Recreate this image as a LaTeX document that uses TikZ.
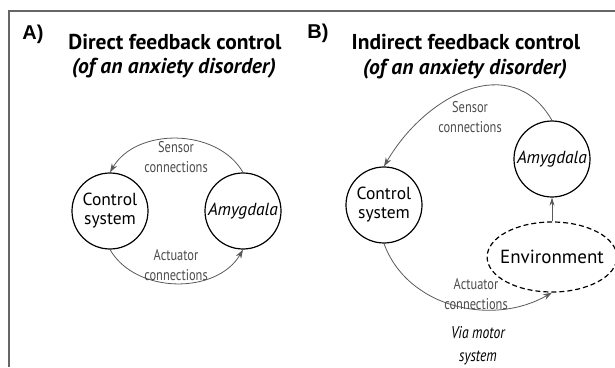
\documentclass[tikz,border=0pt]{standalone}
\usepackage{fontspec}
\setmainfont{PT Sans}
\newfontfamily\condfont[FakeStretch=0.8]{PT Sans}
\newfontfamily\panelfont{Liberation Sans}
\usepackage{tikz}
\usetikzlibrary{calc}
\usetikzlibrary{arrows.meta}
\usetikzlibrary{shapes.geometric}

\begin{document}
\begin{tikzpicture}[x=1pt,y=1pt,
    block/.style={circle, draw=black, line width=1.2pt, minimum size=76pt, inner sep=0pt, align=center, font=\fontsize{17.5}{19}\selectfont},
    link/.style={draw=black!65, line width=0.8pt, -{Stealth[length=9pt,width=6pt]}},
    tag/.style={text=black!70, align=center, font=\condfont\fontsize{15.5}{20}\selectfont},
    title/.style={align=center, font=\bfseries\fontsize{21.5}{26}\selectfont}]
\useasboundingbox (0,0) rectangle (615,367);

% frame
\draw[black!60, line width=2pt] (9,0) -- (9,356) -- (615,356);

% panel A
\node[font=\panelfont\bfseries\fontsize{20}{20}\selectfont] (labA) at (33,333) {A)};
\node[title] (titA) at (175,325) {Direct feedback control};
\node[title, font=\bfseries\itshape\fontsize{21.5}{22}\selectfont] (subA) at (174,299) {(of an anxiety disorder)};

\node[block] (ctrlA) at (110,156) {Control\\system};
\node[block, font=\itshape\fontsize{17.5}{19}\selectfont] (amyA) at (243,156) {Amygdala};

\draw[link] (amyA.north) to[out=120,in=60] (ctrlA.north);
\draw[link] (ctrlA.south) to[out=-60,in=-120] (amyA.south);
\node[tag] (senA) at (176,210) {Sensor\\connections};
\node[tag] (actA) at (176,102) {Actuator\\connections};

% panel B
\node[font=\panelfont\bfseries\fontsize{20}{20}\selectfont] (labB) at (318,334) {B)};
\node[title] (titB) at (466,325) {Indirect feedback control};
\node[title, font=\bfseries\itshape\fontsize{21.5}{22}\selectfont] (subB) at (465,298) {(of an anxiety disorder)};

\node[block] (ctrlB) at (384,162) {Control\\system};
\node[block, font=\itshape\fontsize{17.5}{19}\selectfont] (amyB) at (552,208) {Amygdala};
\node[ellipse, draw=black, dash pattern=on 5pt off 3pt, line width=1.2pt, minimum width=116pt, minimum height=70pt,
    inner xsep=-6pt, inner ysep=0pt, font=\fontsize{19}{20}\selectfont] (envB) at (552,110) {Environment};

\draw[link] (amyB.north) to[out=120,in=60,looseness=1.2] (ctrlB.north);
\draw[link] (ctrlB.south) to[out=-70,in=-150] (envB.south);
\draw[link, -{Stealth[length=8pt,width=5pt]}] (envB.north) -- (amyB.south);
\node[tag] (senB) at (470,250) {Sensor\\connections};
\node[tag] (actB) at (476,73) {Actuator\\connections};
\node[tag, text=black, font=\condfont\itshape\fontsize{17}{23}\selectfont] (motB) at (478,21) {Via motor\\system};

\end{tikzpicture}
\end{document}
